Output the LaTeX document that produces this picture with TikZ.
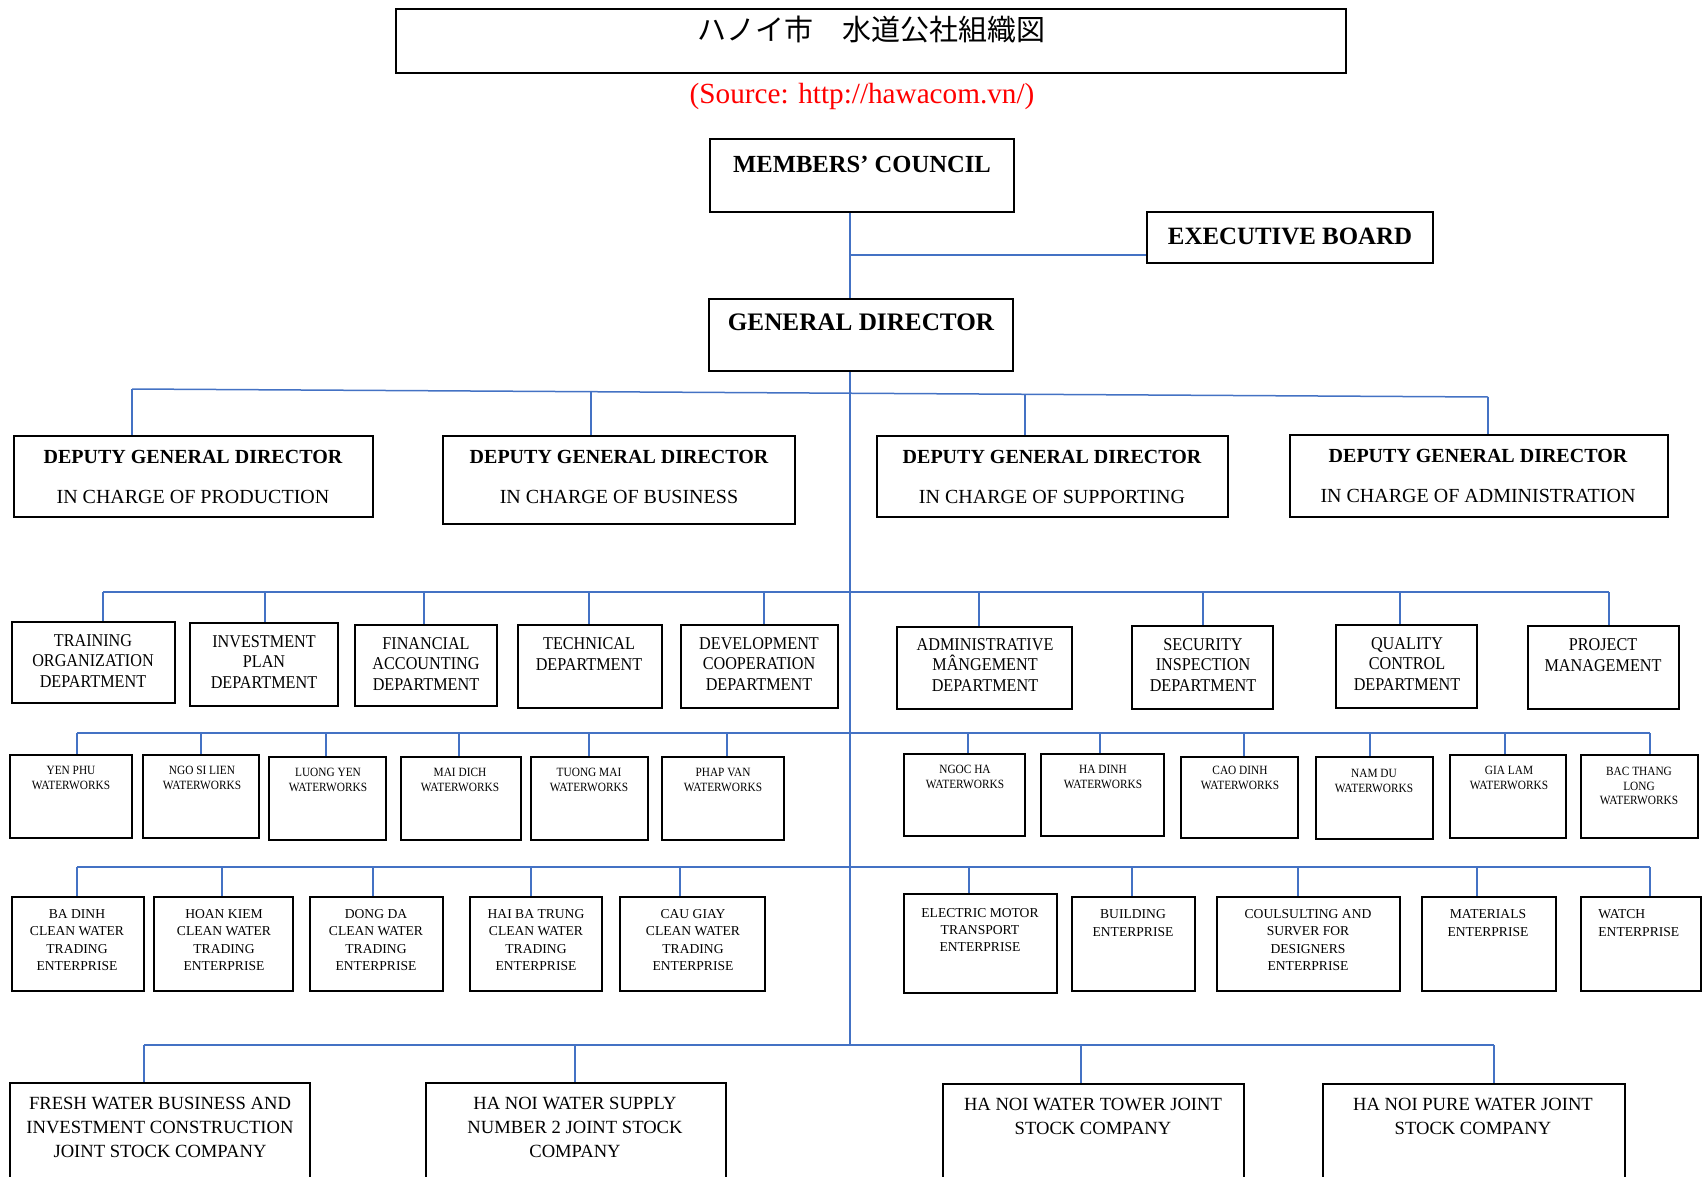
\documentclass[tikz,border=0pt]{standalone}
\usepackage{fontspec}
\setmainfont{Liberation Serif}
\newfontfamily\jpfont{Noto Sans CJK JP}
\newfontfamily\condfont[FakeStretch=0.9]{Liberation Serif}
\usetikzlibrary{fit}
\definecolor{connblue}{RGB}{68,114,196}
\definecolor{srcred}{RGB}{255,0,0}
\newcommand\ubx[7]{%
  \node[ubox, fit={(#2,#3)(#4,#5)}] (#1) {};
  \coordinate (#1d) at (#6,#7);
  \draw[conn] (#1d) -- (#1d |- #1.north);
}
\begin{document}
\begin{tikzpicture}[x=0.5pt,y=-0.5pt,
  ubox/.style={draw=black, line width=1pt, inner sep=0pt},
  conn/.style={draw=connblue, line width=0.75pt},
  txt/.style={inner sep=0pt, align=center, text=black},
  titletxt/.style={txt, font=\jpfont\fontsize{14.5}{17}\selectfont},
  srctxt/.style={txt, text=srcred, font=\fontsize{14.6}{17}\selectfont},
  bigtxt/.style={txt, font=\bfseries\fontsize{12.3}{15}\selectfont},
  dgtxt/.style={txt, font=\fontsize{10}{20}\selectfont},
  dtxt/.style={txt, font=\condfont\fontsize{9}{10.3}\selectfont},
  wtxt/.style={txt, font=\condfont\fontsize{6.3}{7.4}\selectfont},
  etxt/.style={txt, font=\fontsize{6.8}{8.7}\selectfont},
  ctxt/.style={txt, font=\fontsize{9.3}{12}\selectfont}]
\useasboundingbox (0,0) rectangle (1702,1177);
\clip (0,0) rectangle (1702,1177);
\fill[white] (0,0) rectangle (1702,1177);

% title
\node[ubox, fit={(396,9)(1346,73)}] (titlebox) {};
\node[titletxt] (title) at (871,30) {ハノイ市　水道公社組織図};
\node[srctxt] (src) at (862,96) {(Source: http://hawacom.vn/)};

% top level
\node[ubox, fit={(710,139)(1014,212)}] (mc) {};
\node[bigtxt] (mct) at (862,164) {MEMBERS’ COUNCIL};
\node[ubox, fit={(1147,212)(1433,263)}] (eb) {};
\node[bigtxt, font=\bfseries\fontsize{12.45}{15}\selectfont] (ebt) at (1290,236) {EXECUTIVE BOARD};
\node[ubox, fit={(709,299)(1013,371)}] (gd) {};
\node[bigtxt, font=\bfseries\fontsize{12.6}{15}\selectfont] (gdt) at (861,322) {GENERAL DIRECTOR};

\coordinate (tk) at (850,1045);
\coordinate (ebj) at (850,255);
\draw[conn] (tk |- mc.south) -- (tk |- gd.north);
\draw[conn] (ebj) -- (ebj -| eb.west);
\draw[conn] (tk |- gd.south) -- (tk);

% deputies
\ubx{dg1}{14}{436}{373}{517}{132}{389}
\ubx{dg2}{443}{436}{795}{524}{591}{392}
\ubx{dg3}{877}{436}{1228}{517}{1025}{394}
\ubx{dg4}{1290}{435}{1668}{517}{1488}{397}
\draw[conn] (dg1d) -- (dg4d);
\node[dgtxt] (dg1t) at (193,477) {{\bfseries DEPUTY GENERAL DIRECTOR}\\IN CHARGE OF PRODUCTION};
\node[dgtxt] (dg2t) at (619,477) {{\bfseries DEPUTY GENERAL DIRECTOR}\\IN CHARGE OF BUSINESS};
\node[dgtxt] (dg3t) at (1052,477) {{\bfseries DEPUTY GENERAL DIRECTOR}\\IN CHARGE OF SUPPORTING};
\node[dgtxt] (dg4t) at (1478,476) {{\bfseries DEPUTY GENERAL DIRECTOR}\\IN CHARGE OF ADMINISTRATION};

% departments
\ubx{dp1}{12}{622}{175}{703}{103}{592}
\ubx{dp2}{190}{623}{338}{706}{265}{592}
\ubx{dp3}{355}{625}{497}{706}{424}{592}
\ubx{dp4}{518}{625}{662}{708}{589}{592}
\ubx{dp5}{681}{625}{838}{708}{764}{592}
\ubx{dp6}{897}{627}{1072}{709}{979}{592}
\ubx{dp7}{1132}{626}{1273}{709}{1203}{592}
\ubx{dp8}{1336}{625}{1477}{708}{1400}{592}
\ubx{dp9}{1528}{626}{1679}{709}{1609}{592}
\draw[conn] (dp1d) -- (dp9d);
\node[dtxt] (dp1t) at (93,661) {TRAINING\\ORGANIZATION\\DEPARTMENT};
\node[dtxt] (dp2t) at (264,662) {INVESTMENT\\PLAN\\DEPARTMENT};
\node[dtxt] (dp3t) at (426,664) {FINANCIAL\\ACCOUNTING\\DEPARTMENT};
\node[dtxt] (dp4t) at (589,654) {TECHNICAL\\DEPARTMENT};
\node[dtxt] (dp5t) at (759,664) {DEVELOPMENT\\COOPERATION\\DEPARTMENT};
\node[dtxt] (dp6t) at (985,665) {ADMINISTRATIVE\\MÂNGEMENT\\DEPARTMENT};
\node[dtxt] (dp7t) at (1203,665) {SECURITY\\INSPECTION\\DEPARTMENT};
\node[dtxt] (dp8t) at (1407,664) {QUALITY\\CONTROL\\DEPARTMENT};
\node[dtxt] (dp9t) at (1603,655) {PROJECT\\MANAGEMENT};

% waterworks
\ubx{ww1}{10}{755}{132}{838}{77}{733}
\ubx{ww2}{143}{755}{259}{838}{201}{733}
\ubx{ww3}{269}{757}{386}{840}{326}{733}
\ubx{ww4}{401}{757}{521}{840}{459}{733}
\ubx{ww5}{531}{757}{648}{840}{589}{733}
\ubx{ww6}{662}{757}{784}{840}{727}{733}
\ubx{ww7}{904}{754}{1025}{836}{968}{733}
\ubx{ww8}{1041}{754}{1164}{836}{1100}{733}
\ubx{ww9}{1181}{757}{1298}{838}{1244}{733}
\ubx{ww10}{1316}{757}{1433}{839}{1370}{733}
\ubx{ww11}{1450}{755}{1566}{838}{1505}{733}
\ubx{ww12}{1581}{755}{1698}{838}{1650}{733}
\draw[conn] (ww1d) -- (ww12d);
\node[wtxt] (ww1t) at (71,778) {YEN PHU\\WATERWORKS};
\node[wtxt] (ww2t) at (202,778) {NGO SI LIEN\\WATERWORKS};
\node[wtxt] (ww3t) at (328,780) {LUONG YEN\\WATERWORKS};
\node[wtxt] (ww4t) at (460,780) {MAI DICH\\WATERWORKS};
\node[wtxt] (ww5t) at (589,780) {TUONG MAI\\WATERWORKS};
\node[wtxt] (ww6t) at (723,780) {PHAP VAN\\WATERWORKS};
\node[wtxt] (ww7t) at (965,777) {NGOC HA\\WATERWORKS};
\node[wtxt] (ww8t) at (1103,777) {HA DINH\\WATERWORKS};
\node[wtxt] (ww9t) at (1240,778) {CAO DINH\\WATERWORKS};
\node[wtxt] (ww10t) at (1374,781) {NAM DU\\WATERWORKS};
\node[wtxt] (ww11t) at (1509,778) {GIA LAM\\WATERWORKS};
\node[wtxt] (ww12t) at (1639,786) {BAC THANG\\LONG\\WATERWORKS};

% enterprises
\ubx{en1}{12}{897}{144}{991}{77}{867}
\ubx{en2}{154}{897}{293}{991}{222}{867}
\ubx{en3}{310}{897}{443}{991}{373}{867}
\ubx{en4}{470}{897}{602}{991}{531}{867}
\ubx{en5}{620}{897}{765}{991}{680}{867}
\ubx{en6}{904}{894}{1057}{993}{969}{867}
\ubx{en7}{1072}{897}{1195}{991}{1132}{867}
\ubx{en8}{1217}{897}{1400}{991}{1298}{867}
\ubx{en9}{1422}{897}{1556}{991}{1477}{867}
\ubx{en10}{1581}{897}{1701}{991}{1650}{867}
\draw[conn] (en1d) -- (en10d);
\node[etxt] (en1t) at (77,940) {BA DINH\\CLEAN WATER\\TRADING\\ENTERPRISE};
\node[etxt] (en2t) at (224,940) {HOAN KIEM\\CLEAN WATER\\TRADING\\ENTERPRISE};
\node[etxt] (en3t) at (376,940) {DONG DA\\CLEAN WATER\\TRADING\\ENTERPRISE};
\node[etxt] (en4t) at (536,940) {HAI BA TRUNG\\CLEAN WATER\\TRADING\\ENTERPRISE};
\node[etxt] (en5t) at (693,940) {CAU GIAY\\CLEAN WATER\\TRADING\\ENTERPRISE};
\node[etxt] (en6t) at (980,930) {ELECTRIC MOTOR\\TRANSPORT\\ENTERPRISE};
\node[etxt] (en7t) at (1133,923) {BUILDING\\ENTERPRISE};
\node[etxt] (en8t) at (1308,940) {COULSULTING AND\\SURVER FOR\\DESIGNERS\\ENTERPRISE};
\node[etxt] (en9t) at (1488,923) {MATERIALS\\ENTERPRISE};
\node[etxt, align=left, anchor=west] (en10t) at (1598,923) {WATCH\\ENTERPRISE};

% companies
\ubx{co1}{10}{1083}{310}{1200}{144}{1045}
\ubx{co2}{426}{1083}{726}{1200}{575}{1045}
\ubx{co3}{943}{1084}{1244}{1200}{1081}{1045}
\ubx{co4}{1323}{1084}{1625}{1200}{1494}{1045}
\draw[conn] (co1d) -- (co4d);
\node[ctxt] (co1t) at (160,1127) {FRESH WATER BUSINESS AND\\INVESTMENT CONSTRUCTION\\JOINT STOCK COMPANY};
\node[ctxt] (co2t) at (575,1127) {HA NOI WATER SUPPLY\\NUMBER 2 JOINT STOCK\\COMPANY};
\node[ctxt] (co3t) at (1093,1116) {HA NOI WATER TOWER JOINT\\STOCK COMPANY};
\node[ctxt] (co4t) at (1473,1116) {HA NOI PURE WATER JOINT\\STOCK COMPANY};
\end{tikzpicture}
\end{document}
